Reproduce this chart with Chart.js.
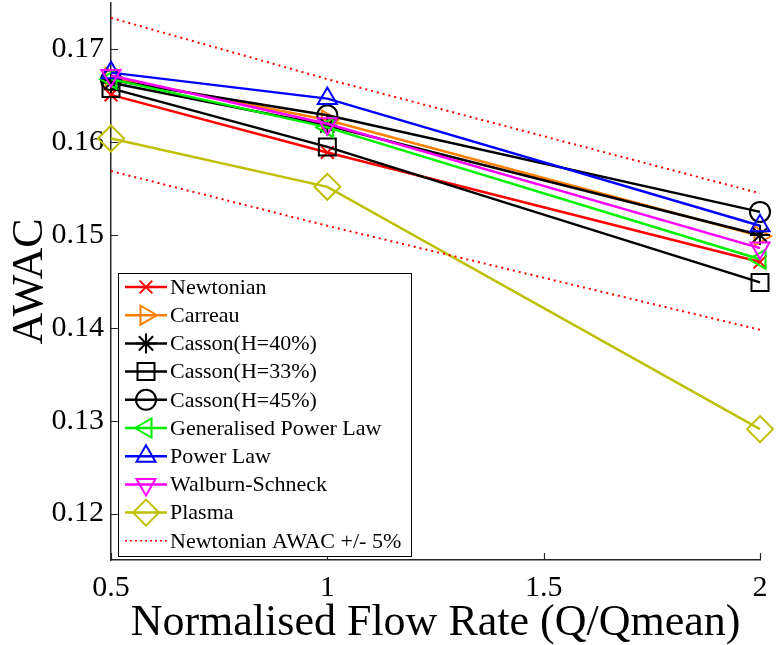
<!DOCTYPE html>
<html><head><meta charset="utf-8">
<script src="https://cdn.jsdelivr.net/npm/chart.js@4.4.1/dist/chart.umd.min.js"></script>
<style>html,body{margin:0;padding:0;background:#fff}#wrap{width:778px;height:645px}</style>
</head><body><div id="wrap"><canvas id="c" width="778" height="645"></canvas></div>
<script>
const flowRates = [0.5, 1, 2];
const newtonian = [0.1651, 0.1589, 0.1471];
const carreau = [0.1670, 0.1624, 0.1499];
const casson40 = [0.1664, 0.1618, 0.1500];
const casson33 = [0.1658, 0.1595, 0.1449];
const casson45 = [0.1667, 0.1629, 0.1525];
const genPowerLaw = [0.1668, 0.1616, 0.1474];
const powerLaw = [0.1675, 0.1647, 0.1510];
const walburnSchneck = [0.1672, 0.1620, 0.1486];
const plasma = [0.1604, 0.1552, 0.1291];
const newtonianUpper = [0.1734, 0.1668, 0.1545];
const newtonianLower = [0.1569, 0.1510, 0.1398];
const xTicks = [0.5, 1, 1.5, 2];
const xTickLabels = ['0.5', '1', '1.5', '2'];
const yTicks = [0.12, 0.13, 0.14, 0.15, 0.16, 0.17];
const yTickLabels = ['0.12', '0.13', '0.14', '0.15', '0.16', '0.17'];

const FONT = "'Liberation Serif', 'Times New Roman', serif";

function pts(arr) { return flowRates.map((x, i) => ({x: x, y: arr[i]})); }

const seriesDefs = [
  {label: 'Newtonian', data: newtonian, color: '#ff0000', style: 'crossRot', rot: 0, r: 9},
  {label: 'Carreau', data: carreau, color: '#ff8000', style: 'triangle', rot: 90, r: 11},
  {label: 'Casson(H=40%)', data: casson40, color: '#000000', style: 'star', rot: 0, r: 10},
  {label: 'Casson(H=33%)', data: casson33, color: '#000000', style: 'rect', rot: 0, r: 12},
  {label: 'Casson(H=45%)', data: casson45, color: '#000000', style: 'circle', rot: 0, r: 10},
  {label: 'Generalised Power Law', data: genPowerLaw, color: '#00f000', style: 'triangle', rot: 270, r: 11},
  {label: 'Power Law', data: powerLaw, color: '#0000ff', style: 'triangle', rot: 0, r: 11},
  {label: 'Walburn-Schneck', data: walburnSchneck, color: '#ff00ff', style: 'triangle', rot: 180, r: 11},
  {label: 'Plasma', data: plasma, color: '#bfbf00', style: 'rectRot', rot: 0, r: 13}
];

const datasets = seriesDefs.map((s, i) => ({
  label: s.label,
  data: pts(s.data),
  borderColor: s.color,
  backgroundColor: 'rgba(0,0,0,0)',
  borderWidth: 2.5,
  pointStyle: s.style,
  pointRotation: s.rot,
  pointRadius: s.r,
  pointHoverRadius: s.r,
  pointBorderColor: s.color,
  pointBackgroundColor: 'rgba(0,0,0,0)',
  pointBorderWidth: 2,
  tension: 0,
  fill: false,
  clip: false,
  order: 30 - i
}));
datasets.push({
  label: 'Newtonian AWAC +/- 5%',
  data: pts(newtonianUpper),
  borderColor: '#ff0000', borderWidth: 2, borderDash: [2, 4],
  pointRadius: 0, fill: false, tension: 0, order: 5, clip: false, isBound: true
});
datasets.push({
  label: '',
  data: pts(newtonianLower),
  borderColor: '#ff0000', borderWidth: 2, borderDash: [2, 4],
  pointRadius: 0, fill: false, tension: 0, order: 4, clip: false, hideInLegend: true
});

const inwardTicks = {
  id: 'inwardTicks',
  beforeDatasetsDraw(chart) {
    const {ctx, chartArea, scales} = chart;
    ctx.save();
    ctx.strokeStyle = '#262626';
    ctx.lineWidth = 1.2;
    ctx.beginPath();
    yTicks.forEach(v => {
      const py = Math.round(scales.y.getPixelForValue(v)) + 0.5;
      ctx.moveTo(chartArea.left, py); ctx.lineTo(chartArea.left + 7, py);
    });
    xTicks.forEach(v => {
      const px = Math.round(scales.x.getPixelForValue(v)) + 0.5;
      ctx.moveTo(px, chartArea.bottom); ctx.lineTo(px, chartArea.bottom - 7);
    });
    ctx.stroke();
    ctx.restore();
  }
};

function drawMarker(ctx, ds, x, y) {
  if (Chart.helpers && Chart.helpers.drawPoint) {
    ctx.strokeStyle = ds.pointBorderColor;
    ctx.fillStyle = 'rgba(0,0,0,0)';
    ctx.lineWidth = ds.pointBorderWidth;
    Chart.helpers.drawPoint(ctx, {pointStyle: ds.pointStyle, rotation: ds.pointRotation, radius: ds.pointRadius, borderWidth: ds.pointBorderWidth}, x, y);
  }
}

const innerLegend = {
  id: 'innerLegend',
  afterDraw(chart) {
    const {ctx, chartArea} = chart;
    const items = chart.data.datasets.filter(d => !d.hideInLegend);
    const left = chartArea.left + 7, right = chartArea.left + 300;
    const bottom = chartArea.bottom - 4, top = bottom - 283;
    const rowH = 28.2;
    ctx.save();
    ctx.fillStyle = '#ffffff';
    ctx.fillRect(left, top, right - left, bottom - top);
    ctx.strokeStyle = '#000000'; ctx.lineWidth = 1;
    ctx.strokeRect(Math.round(left) + 0.5, Math.round(top) + 0.5, right - left, bottom - top);
    items.forEach((d, i) => {
      const y = top + 14 + i * rowH;
      ctx.save();
      ctx.strokeStyle = d.borderColor;
      ctx.lineWidth = d.isBound ? 1.5 : 2.5;
      ctx.setLineDash(d.isBound ? [2, 3] : []);
      ctx.beginPath(); ctx.moveTo(left + 7, y); ctx.lineTo(left + 49, y); ctx.stroke();
      ctx.setLineDash([]);
      if (!d.isBound) drawMarker(ctx, d, left + 28, y);
      ctx.restore();
      ctx.fillStyle = '#000';
      ctx.font = "22px " + FONT;
      ctx.textBaseline = 'middle';
      ctx.textAlign = 'left';
      ctx.fillText(d.label, left + 52, y + 1);
    });
    ctx.restore();
  }
};

new Chart(document.getElementById('c'), {
  type: 'line',
  data: {datasets: datasets},
  options: {
    responsive: false,
    devicePixelRatio: 1,
    animation: false,
    layout: {autoPadding: false, padding: {top: 3, right: 18, left: 0, bottom: 0}},
    plugins: {legend: {display: false}, tooltip: {enabled: false}},
    scales: {
      x: {
        type: 'linear', min: 0.5, max: 2,
        afterBuildTicks: s => { s.ticks = xTicks.map(v => ({value: v})); },
        afterFit: s => { s.height = 85; s.paddingLeft = 0; s.paddingRight = 0; },
        grid: {display: false, drawTicks: false},
        border: {display: true, color: '#262626', width: 1.5},
        ticks: {
          padding: 10, color: '#000', font: {family: FONT, size: 30}, maxRotation: 0,
          callback: v => xTickLabels[xTicks.indexOf(v)]
        },
        title: {display: true, text: 'Normalised Flow Rate (Q/Qmean)', color: '#000',
          font: {family: FONT, size: 44, lineHeight: 1}, padding: {top: 0, bottom: 0}}
      },
      y: {
        type: 'linear', min: 0.115, max: 0.175,
        afterBuildTicks: s => { s.ticks = yTicks.map(v => ({value: v})); },
        afterFit: s => { s.width = 111; s.paddingTop = 0; s.paddingBottom = 0; },
        grid: {display: false, drawTicks: false},
        border: {display: true, color: '#262626', width: 1.5},
        ticks: {
          padding: 7, color: '#000', font: {family: FONT, size: 30},
          callback: v => yTickLabels[yTicks.indexOf(v)]
        },
        title: {display: true, text: 'AWAC', color: '#000',
          font: {family: FONT, size: 44, lineHeight: 1}, padding: {top: 8, bottom: 0}}
      }
    }
  },
  plugins: [inwardTicks, innerLegend]
});
</script></body></html>
